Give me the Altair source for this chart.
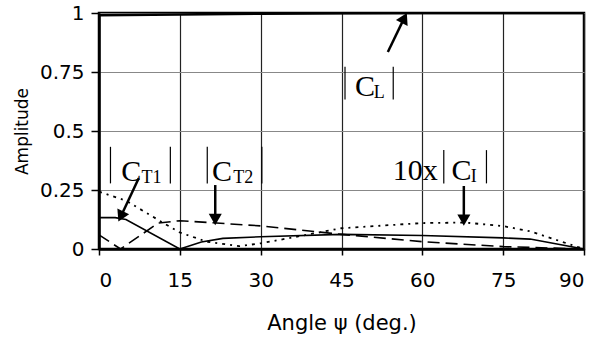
import altair as alt
import pandas as pd

# ---- data ----
angle_CL = [0, 15, 30, 45, 60, 75, 90]
amp_CL = [0.99, 0.994, 0.997, 0.999, 1.0, 1.0, 1.0]

angle_CT1 = [0, 3, 5, 15, 19, 23, 30, 45, 60, 75, 80, 90]
amp_CT1 = [0.133, 0.133, 0.125, 0.0, 0.03, 0.045, 0.052, 0.062, 0.057, 0.047, 0.042, 0.0]

angle_CT2 = [0, 4, 11, 15, 30, 45, 60, 75, 90]
amp_CT2 = [0.06, 0.0, 0.11, 0.12, 0.098, 0.062, 0.031, 0.01, 0.0]

angle_CI = [0, 5, 11, 15, 20, 26, 30, 35, 45, 60, 68, 75, 80, 90]
amp_CI = [0.243, 0.205, 0.123, 0.07, 0.031, 0.012, 0.024, 0.045, 0.088, 0.11, 0.112, 0.097, 0.075, 0.0]

x_ticks = [0, 15, 30, 45, 60, 75, 90]
y_ticks = [0, 0.25, 0.5, 0.75, 1]

# annotation texts (data units)
main_text = ["C", "C", "10x", "C", "C"]
main_x = [4.11, 20.96, 54.5, 65.4, 47.5]
main_y = [0.288, 0.288, 0.292, 0.292, 0.648]

sub_text = ["T1", "T2", "I", "L"]
sub_x = [7.9, 24.9, 69.0, 51.0]
sub_y = [0.281, 0.281, 0.285, 0.641]

bar_x = [2.13, 13.24, 20.09, 30.22, 63.98, 71.9, 45.65, 54.6]
bar_top = [0.433, 0.433, 0.433, 0.433, 0.419, 0.419, 0.772, 0.772]
bar_bot = [0.278, 0.278, 0.278, 0.278, 0.278, 0.278, 0.634, 0.634]

arrow_x = [53.6, 7.37, 21.57, 67.7]
arrow_y = [0.835, 0.30, 0.271, 0.267]
head_x = [56.5, 4.2, 21.57, 67.7]
head_y = [0.972, 0.145, 0.133, 0.130]
head_angle = [26.6, 205.5, 180, 180]

# ---- scales ----
xs = alt.Scale(domain=[0, 90], nice=False, zero=False)
ys = alt.Scale(domain=[0, 1], nice=False)

def line_layer(xv, yv, width, dash=None):
    df = pd.DataFrame({"angle": xv, "amp": yv})
    kw = dict(color="black", strokeWidth=width, clip=True)
    if dash is not None:
        kw["strokeDash"] = dash
    return alt.Chart(df).mark_line(**kw).encode(
        x=alt.X("angle:Q", scale=xs,
                axis=alt.Axis(values=x_ticks, title="Angle \u03c8 (deg.)")),
        y=alt.Y("amp:Q", scale=ys,
                axis=alt.Axis(values=y_ticks, title="Amplitude",
                              labelExpr="'' + datum.value")),
    )

l_cl = line_layer(angle_CL, amp_CL, 2.5)
l_ct1 = line_layer(angle_CT1, amp_CT1, 1.6)
l_ct2 = line_layer(angle_CT2, amp_CT2, 1.6, [12, 6])
l_ci = line_layer(angle_CI, amp_CI, 1.8, [3, 5, 2, 5])

bars = alt.Chart(pd.DataFrame({"x": bar_x, "y": bar_top, "y2": bar_bot})).mark_rule(
    color="black", strokeWidth=1.2
).encode(x=alt.X("x:Q", scale=xs), y=alt.Y("y:Q", scale=ys), y2="y2:Q")

main_lbl = alt.Chart(pd.DataFrame({"t": main_text, "x": main_x, "y": main_y})).mark_text(
    font="Liberation Serif", fontSize=30, align="left", baseline="alphabetic", color="black"
).encode(x=alt.X("x:Q", scale=xs), y=alt.Y("y:Q", scale=ys), text="t:N")

sub_lbl = alt.Chart(pd.DataFrame({"t": sub_text, "x": sub_x, "y": sub_y})).mark_text(
    font="Liberation Serif", fontSize=18, align="left", baseline="alphabetic", color="black"
).encode(x=alt.X("x:Q", scale=xs), y=alt.Y("y:Q", scale=ys), text="t:N")

arrows = alt.Chart(pd.DataFrame({"x": arrow_x, "y": arrow_y, "x2": head_x, "y2": head_y})).mark_rule(
    color="black", strokeWidth=2.5
).encode(x=alt.X("x:Q", scale=xs), y=alt.Y("y:Q", scale=ys), x2="x2:Q", y2="y2:Q")

heads = alt.Chart(pd.DataFrame({"x": head_x, "y": head_y, "a": head_angle})).mark_point(
    shape="triangle", filled=True, color="black", size=170, opacity=1
).encode(x=alt.X("x:Q", scale=xs), y=alt.Y("y:Q", scale=ys),
         angle=alt.Angle("a:Q", scale=None))

chart = alt.layer(l_ct1, l_ct2, l_ci, l_cl, bars, main_lbl, sub_lbl, arrows, heads).properties(
    width=485, height=236,
    autosize=alt.AutoSizeParams(type="none"),
    padding={"left": 99, "top": 13, "right": 14, "bottom": 89},
    background="white",
).configure_view(
    stroke="black", strokeWidth=2.5
).configure_axis(
    labelFont="DejaVu Sans", labelFontSize=20, labelColor="black",
    titleFont="DejaVu Sans", titleColor="black", titleFontWeight="normal",
    domainColor="black", domainWidth=2.5,
    tickColor="black", tickWidth=1.5,
    grid=True, gridWidth=1,
).configure_axisX(
    gridColor="#222222", gridWidth=1.2, tickSize=6, labelPadding=15, titleFontSize=21,
    titleY=80, titleBaseline="alphabetic",
).configure_axisY(
    gridColor="#888888", tickSize=8, labelPadding=7, titleFontSize=17,
    titleX=-72, titleBaseline="alphabetic", titleAngle=270,
)

chart.save("out.html", embed_options={"renderer": "svg", "actions": False})
